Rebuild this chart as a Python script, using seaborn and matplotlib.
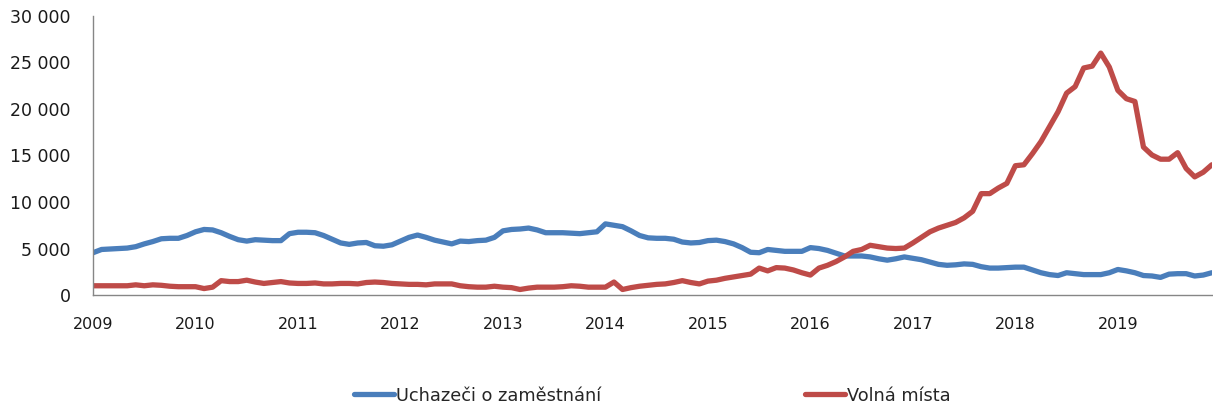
import numpy as np
import pandas as pd
import matplotlib
matplotlib.use('Agg')
import matplotlib.pyplot as plt
import seaborn as sns

# monthly values 2009-2019 (thousands)
uchazeci = [4.55, 4.9, 4.95, 5.0, 5.05, 5.2, 5.5, 5.75, 6.05, 6.1, 6.1, 6.4,
            6.8, 7.05, 7.0, 6.7, 6.3, 5.95, 5.8, 5.95, 5.9, 5.85, 5.85, 6.6,
            6.75, 6.75, 6.7, 6.4, 6.0, 5.6, 5.45, 5.6, 5.65, 5.3, 5.25, 5.4,
            5.8, 6.2, 6.45, 6.2, 5.9, 5.7, 5.5, 5.8, 5.75, 5.85, 5.9, 6.2,
            6.9, 7.05, 7.1, 7.2, 7.0, 6.7, 6.7, 6.7, 6.65, 6.6, 6.7, 6.8,
            7.65, 7.5, 7.35, 6.9, 6.4, 6.15, 6.1, 6.1, 6.0, 5.7, 5.6, 5.65,
            5.85, 5.9, 5.75, 5.5, 5.1, 4.6, 4.55, 4.9, 4.8, 4.7, 4.7, 4.7,
            5.1, 5.0, 4.8, 4.5, 4.2, 4.2, 4.2, 4.1, 3.9, 3.75, 3.9, 4.1,
            3.95, 3.8, 3.55, 3.3, 3.2, 3.25, 3.35, 3.3, 3.05, 2.9, 2.9, 2.95,
            3.0, 3.0, 2.7, 2.4, 2.2, 2.1, 2.4, 2.3, 2.2, 2.2, 2.2, 2.4,
            2.75, 2.6, 2.4, 2.1, 2.05, 1.9, 2.25, 2.3, 2.3, 2.05, 2.15, 2.4]

volna = [1.0, 1.0, 1.0, 1.0, 1.0, 1.1, 1.0, 1.1, 1.05, 0.95, 0.9, 0.9,
         0.9, 0.7, 0.85, 1.55, 1.45, 1.45, 1.6, 1.4, 1.25, 1.35, 1.45, 1.3,
         1.25, 1.25, 1.3, 1.2, 1.2, 1.25, 1.25, 1.2, 1.35, 1.4, 1.35, 1.25,
         1.2, 1.15, 1.15, 1.1, 1.2, 1.2, 1.2, 1.0, 0.9, 0.85, 0.85, 0.95,
         0.85, 0.8, 0.6, 0.75, 0.85, 0.85, 0.85, 0.9, 1.0, 0.95, 0.85, 0.85,
         0.85, 1.4, 0.6, 0.8, 0.95, 1.05, 1.15, 1.2, 1.35, 1.55, 1.35, 1.2,
         1.5, 1.6, 1.8, 1.95, 2.1, 2.25, 2.9, 2.6, 2.95, 2.9, 2.7, 2.4,
         2.15, 2.9, 3.2, 3.6, 4.1, 4.7, 4.9, 5.35, 5.2, 5.05, 5.0, 5.05,
         5.6, 6.2, 6.8, 7.2, 7.5, 7.8, 8.3, 9.0, 10.9, 10.9, 11.5, 12.0,
         13.9, 14.0, 15.2, 16.5, 18.1, 19.7, 21.7, 22.4, 24.4, 24.6, 26.0, 24.5,
         22.0, 21.1, 20.8, 15.9, 15.05, 14.6, 14.6, 15.3, 13.6, 12.7, 13.2, 14.0]

roky = [str(r) for r in range(2009, 2020)]
serie = ['Uchazeči o zaměstnání', 'Volná místa']
barvy = ['#4a7ebb', '#be4b48']

n = len(uchazeci)
df = pd.DataFrame({
    'mesic': list(range(n)) * 2,
    'pocet': [v * 1000 for v in uchazeci] + [v * 1000 for v in volna],
    'serie': [serie[0]] * n + [serie[1]] * n,
})

sns.set_style('white')
plt.rcParams['font.family'] = ['DejaVu Sans']

fig = plt.figure(figsize=(12.13, 4.07), dpi=100)
ax = fig.add_axes([0.0767, 0.275, 0.9223, 0.686])
sns.lineplot(data=df, x='mesic', y='pocet', hue='serie', palette=barvy,
             linewidth=3.8, ax=ax)

ax.set_xlim(0, n - 1)
ax.set_ylim(0, 30000)
ax.set_xticks(range(0, n, 12))
ax.set_xticklabels(roky, fontsize=11.5, color='#1a1a1a')
ax.set_yticks(range(0, 30001, 5000))
ax.set_yticklabels([f'{v:,}'.replace(',', ' ') for v in range(0, 30001, 5000)],
                   fontsize=12.5, color='#1a1a1a')
ax.tick_params(axis='x', length=0, pad=16)
ax.tick_params(axis='y', length=0, pad=16)
ax.set_xlabel('')
ax.set_ylabel('')
for s in ['top', 'right']:
    ax.spines[s].set_visible(False)
for s in ['left', 'bottom']:
    ax.spines[s].set_color('#868686')
    ax.spines[s].set_linewidth(1)

ax.legend(loc='center', bbox_to_anchor=(0.5, -0.36), ncol=2, frameon=False,
          fontsize=12.8, handlelength=2.25, handletextpad=0.1,
          columnspacing=11.5)

fig.savefig('out.png', dpi=100)
